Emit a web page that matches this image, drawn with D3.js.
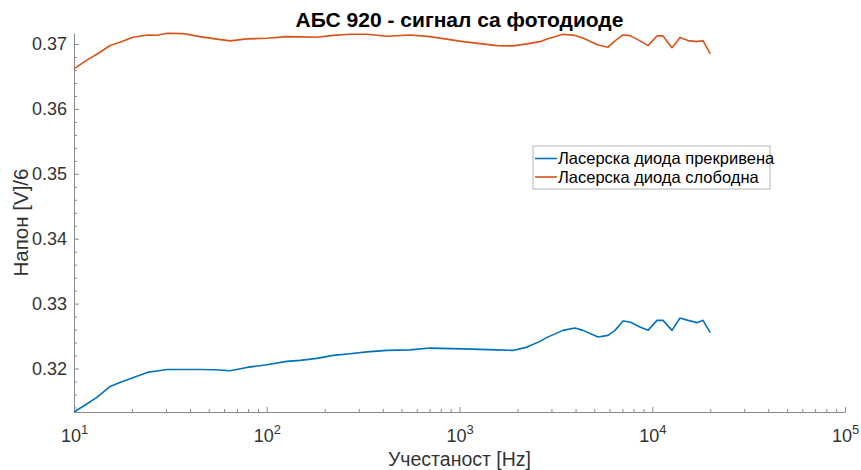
<!DOCTYPE html>
<html>
<head>
<meta charset="utf-8">
<script src="https://cdn.jsdelivr.net/npm/d3@7"></script>
<style>
  body { margin: 0; background: #fff; }
  text { font-family: "Liberation Sans", Arial, sans-serif; fill: #333; }
</style>
</head>
<body>
<div id="chart"></div>
<script>
// frequencies [Hz]
const freq = [10, 11.7, 13.2, 15.4, 17.3, 20.2, 24.2, 27, 30.4, 36.8, 45, 53.9, 64.5, 79, 100, 127, 149, 182, 221, 270, 331, 421, 554, 703,
              1043, 1565, 1895, 2240, 2617, 2845, 3443, 3973, 4372, 5231, 5895, 6410, 7052, 7665, 8640, 9507, 10584, 11369, 12662,
              13931, 15326, 17071, 18339, 20000];
// ласерска диода прекривена
const covered = [0.3133, 0.31457, 0.31559, 0.31724, 0.31786, 0.31858, 0.31944, 0.31963, 0.31986, 0.31986, 0.31986, 0.31982, 0.31966,
                 0.32017, 0.32059, 0.3211, 0.32125, 0.32156, 0.32202, 0.32228, 0.32256, 0.32279, 0.32287, 0.32315,
                 0.32302, 0.32287, 0.32279, 0.3233, 0.32418, 0.3248, 0.32588, 0.32623, 0.32588, 0.32485, 0.32511, 0.32588,
                 0.32731, 0.32716, 0.32639, 0.32588, 0.32742, 0.32742, 0.32588, 0.32778, 0.32742, 0.32707, 0.32742, 0.32552];
// ласерска диода слободна
const free = [0.36616, 0.36755, 0.36847, 0.36978, 0.37028, 0.37105, 0.3714, 0.37136, 0.37167, 0.37161, 0.37114, 0.37079, 0.37048,
              0.37079, 0.3709, 0.37114, 0.3711, 0.37105, 0.37133, 0.37151, 0.37151, 0.3712, 0.3714, 0.37114,
              0.37037, 0.36975, 0.36971, 0.37002, 0.37037, 0.37079, 0.37151, 0.37133, 0.37094, 0.36986, 0.36951, 0.37048,
              0.3714, 0.3713, 0.37048, 0.36975, 0.37125, 0.37125, 0.36944, 0.37099, 0.37053, 0.37037, 0.37053, 0.36847];

const seriesNames = ["Ласерска диода прекривена", "Ласерска диода слободна"];
const colors = ["#0072BD", "#D95319"];
const yTicks = [0.32, 0.33, 0.34, 0.35, 0.36, 0.37];
const xTicks = [1e1, 1e2, 1e3, 1e4, 1e5];

const width = 861, height = 470;
const margin = { left: 74, right: 16, top: 33, bottom: 58 };

const svg = d3.select("#chart").append("svg")
  .attr("width", width)
  .attr("height", height);

const x = d3.scaleLog().domain([10, 1e5]).range([margin.left, width - margin.right]);
const y = d3.scaleLinear().domain([0.3133, 0.3717]).range([height - margin.bottom, margin.top]);

// minor ticks
const xMinor = [];
for (let e = 1; e < 5; e++) for (let m = 2; m < 10; m++) xMinor.push(m * Math.pow(10, e));
const yMinor = d3.range(314, 371, 2).map(v => v / 1000).filter(v => v % 0.01 > 0.0005 && v % 0.01 < 0.0095);

const axisColor = "#8a8a8a";

svg.append("g")
  .attr("transform", `translate(0,${height - margin.bottom})`)
  .call(d3.axisBottom(x).tickValues(xMinor).tickSize(-3).tickFormat(""))
  .call(g => g.select(".domain").remove())
  .selectAll("line").attr("stroke", axisColor);

svg.append("g")
  .attr("transform", `translate(${margin.left},0)`)
  .call(d3.axisLeft(y).tickValues(yMinor).tickSize(-3).tickFormat(""))
  .call(g => g.select(".domain").remove())
  .selectAll("line").attr("stroke", axisColor);

const xAxis = svg.append("g")
  .attr("transform", `translate(0,${height - margin.bottom})`)
  .call(d3.axisBottom(x).tickValues(xTicks).tickSize(-5).tickSizeOuter(0).tickPadding(0));
xAxis.select(".domain").attr("stroke", axisColor);
xAxis.selectAll("line").attr("stroke", axisColor);
xAxis.selectAll("text")
  .attr("y", 30).attr("dy", null)
  .style("font-size", "18px")
  .each(function(d) {
    const t = d3.select(this);
    t.text(null);
    t.append("tspan").text("10");
    t.append("tspan").attr("dy", "-8").style("font-size", "13px").text(Math.round(Math.log10(d)));
  });

const yAxis = svg.append("g")
  .attr("transform", `translate(${margin.left},0)`)
  .call(d3.axisLeft(y).tickValues(yTicks).tickSize(-5).tickSizeOuter(0).tickPadding(7).tickFormat(d3.format(".2f")));
yAxis.select(".domain").attr("stroke", axisColor);
yAxis.selectAll("line").attr("stroke", axisColor);
yAxis.selectAll("text").style("font-size", "18px");

// lines
const line = d3.line().x((d, i) => x(freq[i])).y(d => y(d));
[covered, free].forEach((s, k) => {
  svg.append("path")
    .datum(s)
    .attr("fill", "none")
    .attr("stroke", colors[k])
    .attr("stroke-width", 1.6)
    .attr("stroke-linejoin", "round")
    .attr("d", line);
});

// title and axis labels
svg.append("text")
  .attr("x", (margin.left + width - margin.right) / 2).attr("y", 27)
  .attr("text-anchor", "middle")
  .style("font-size", "21px").style("font-weight", "bold").style("fill", "#000")
  .text("АБС 920 - сигнал са фотодиоде");

svg.append("text")
  .attr("x", (margin.left + width - margin.right) / 2).attr("y", 466)
  .attr("text-anchor", "middle")
  .style("font-size", "19.5px")
  .text("Учестаност [Hz]");

svg.append("text")
  .attr("transform", `translate(28,${(margin.top + height - margin.bottom) / 2}) rotate(-90)`)
  .attr("text-anchor", "middle")
  .style("font-size", "20.5px")
  .text("Напон [V]/6");

// legend
const legend = svg.append("g").attr("transform", "translate(533,146)");
legend.append("rect")
  .attr("width", 237).attr("height", 43)
  .attr("fill", "#fff").attr("stroke", "#b5b5b5");
seriesNames.forEach((name, i) => {
  const ly = 12.5 + i * 18.5;
  legend.append("line")
    .attr("x1", 2).attr("x2", 24).attr("y1", ly).attr("y2", ly)
    .attr("stroke", colors[i]).attr("stroke-width", 1.6);
  legend.append("text")
    .attr("x", 25).attr("y", ly).attr("dy", "0.35em")
    .style("font-size", "16.5px").style("fill", "#000")
    .text(name);
});
</script>
</body>
</html>
